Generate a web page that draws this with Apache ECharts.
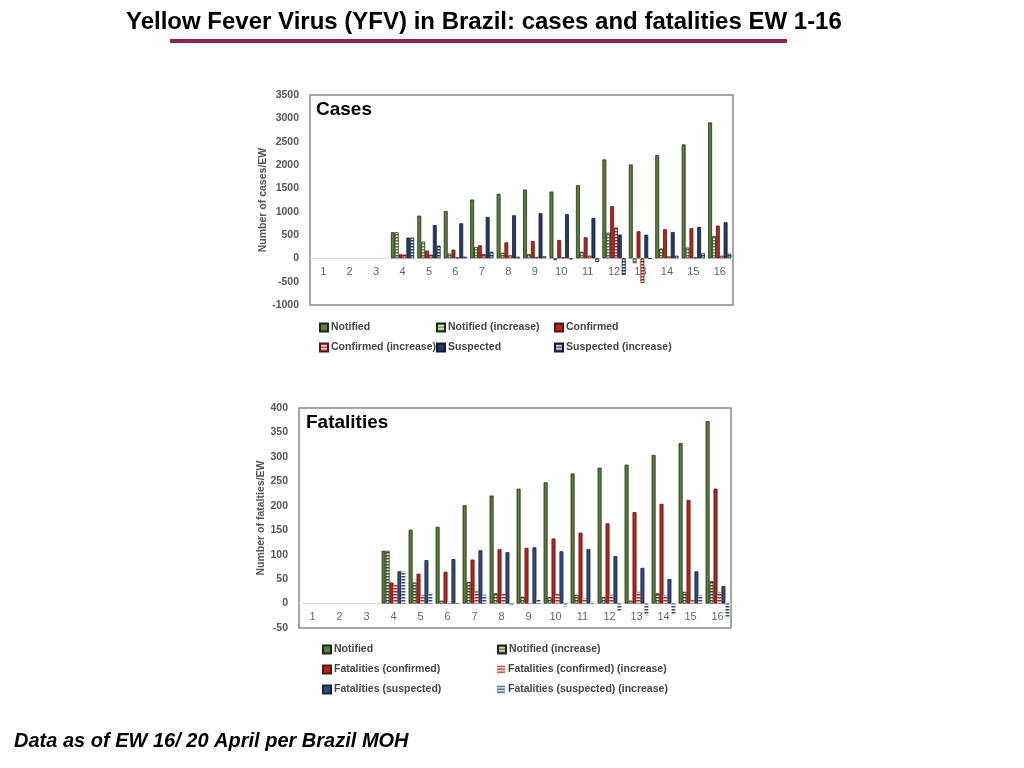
<!DOCTYPE html>
<html>
<head>
<meta charset="utf-8">
<script src="https://cdn.jsdelivr.net/npm/echarts@6/dist/echarts.min.js"></script>
<style>
  html, body { margin: 0; padding: 0; background: #fff; }
  #main { width: 1024px; height: 768px; }
</style>
</head>
<body>
<div id="main"></div>
<script>
// =====================================================================================================================
// Data (EW = epidemiological week)
let weeks = ['1', '2', '3', '4', '5', '6', '7', '8', '9', '10', '11', '12', '13', '14', '15', '16'];

let casesNotified = [null, null, null, 558, 916, 1016, 1260, 1381, 1474, 1431, 1567, 2119, 2011, 2211, 2441, 2913];
let casesNotifiedInc = [null, null, null, 558, 360, 100, 245, 120, 90, -40, 140, 550, -105, 210, 230, 480];
let casesConfirmed = [null, null, null, 86, 165, 186, 279, 343, 372, 394, 451, 1116, 580, 623, 644, 701];
let casesConfirmedInc = [null, null, null, 80, 79, 21, 93, 64, 29, 22, 57, 660, -525, 43, 21, 57];
let casesSuspected = [null, null, null, 444, 715, 751, 887, 923, 966, 945, 866, 509, 505, 565, 673, 773];
let casesSuspectedInc = [null, null, null, 444, 272, 36, 140, 36, 43, -21, -79, -355, -4, 56, 108, 100];

let fatNotified = [null, null, null, 108, 151, 157, 201, 221, 235, 248, 266, 278, 284, 304, 328, 373];
let fatNotifiedInc = [null, null, null, 108, 43, 6, 44, 21, 14, 13, 18, 13, 6, 21, 24, 46];
let fatConfirmed = [null, null, null, 43, 61, 65, 90, 111, 114, 133, 145, 164, 187, 204, 212, 235];
let fatConfirmedInc = [null, null, null, 38, 18, 4, 25, 20, 3, 20, 11, 18, 24, 17, 7, 24];
let fatSuspected = [null, null, null, 66, 89, 91, 109, 105, 115, 107, 111, 97, 73, 50, 66, 36];
let fatSuspectedInc = [null, null, null, 66, 22, 2, 18, -3, 9, -6, 4, -15, -24, -21, 17, -30];

let casesNames = ['Notified', 'Notified (increase)', 'Confirmed', 'Confirmed (increase)', 'Suspected', 'Suspected (increase)'];
let fatNames = ['Notified ', 'Notified (increase) ', 'Fatalities (confirmed)', 'Fatalities (confirmed) (increase)',
  'Fatalities (suspected)', 'Fatalities (suspected) (increase)'];

// =====================================================================================================================
let color_green = '#5e7e3e';
let color_red = '#b3261e';
let color_navy = '#243a66';
let color_blue = '#2f4c7e';
let fontMain = '"Liberation Sans", Arial, sans-serif';

// motif rayé horizontal (barres "increase")
function hatch(color) {
  'use strict';
  let cv = document.createElement('canvas');
  cv.width = 4;
  cv.height = 3;
  let ctx = cv.getContext('2d');
  ctx.fillStyle = '#ffffff';
  ctx.fillRect(0, 0, 4, 3);
  ctx.fillStyle = color;
  ctx.fillRect(0, 0, 4, 1.5);
  return {image: cv, repeat: 'repeat'};
}

function solidBar(name, data, idx, color, border) {
  'use strict';
  return {
    name: name,
    type: 'bar',
    xAxisIndex: idx,
    yAxisIndex: idx,
    data: data,
    barGap: '0%',
    barCategoryGap: '12%',
    itemStyle: {color: color, borderColor: border, borderWidth: 0.8}
  };
}

function hatchBar(name, data, idx, color, border) {
  'use strict';
  return {
    name: name,
    type: 'bar',
    xAxisIndex: idx,
    yAxisIndex: idx,
    data: data,
    barGap: '0%',
    barCategoryGap: '12%',
    itemStyle: {
      color: hatch(color),
      borderColor: border || 'transparent',
      borderWidth: border ? 0.8 : 0
    }
  };
}

let grids = [
  {left: 310, top: 95, width: 423, height: 210},
  {left: 299, top: 408, width: 432, height: 220}
];
let yRanges = [
  {min: -1000, max: 3500, interval: 500},
  {min: -50, max: 400, interval: 50}
];

let xaxis = function (idx) {
  'use strict';
  let r = yRanges[idx];
  // axe des catégories placé sur la ligne du zéro
  let off = -grids[idx].height * (0 - r.min) / (r.max - r.min);
  return {
    type: 'category',
    gridIndex: idx,
    data: weeks,
    offset: off,
    axisTick: {show: false},
    axisLine: {onZero: false, lineStyle: {color: '#dddddd', width: 1}},
    axisLabel: {color: '#666', fontSize: 11, fontFamily: fontMain, margin: 8}
  };
};

let yaxis = function (idx, name, nameGap) {
  'use strict';
  let r = yRanges[idx];
  return {
    type: 'value',
    gridIndex: idx,
    min: r.min,
    max: r.max,
    interval: r.interval,
    name: name,
    nameLocation: 'middle',
    nameGap: nameGap,
    nameTextStyle: {color: '#555', fontSize: 10.5, fontWeight: 'bold', fontFamily: fontMain},
    splitLine: {show: false},
    axisLine: {show: false},
    axisTick: {show: false},
    axisLabel: {
      color: '#555', fontSize: 10.5, fontWeight: 'bold', fontFamily: fontMain, margin: 11,
      formatter: function (v) {
        return String(v);
      }
    }
  };
};

function legendItem(name, left, centerY) {
  'use strict';
  return {
    left: left,
    top: centerY - 6,
    padding: 0,
    icon: 'rect',
    itemWidth: 8,
    itemHeight: 8,
    itemGap: 0,
    textStyle: {color: '#444', fontSize: 10.5, fontWeight: 'bold', fontFamily: fontMain, padding: [0, 0, 0, -2]},
    data: [name]
  };
}

let legends = [
  legendItem(casesNames[0], 319, 328),
  legendItem(casesNames[1], 436, 328),
  legendItem(casesNames[2], 554, 328),
  legendItem(casesNames[3], 319, 348),
  legendItem(casesNames[4], 436, 348),
  legendItem(casesNames[5], 554, 348),
  legendItem(fatNames[0], 322, 650),
  legendItem(fatNames[1], 497, 650),
  legendItem(fatNames[2], 322, 670),
  legendItem(fatNames[3], 497, 670),
  legendItem(fatNames[4], 322, 690),
  legendItem(fatNames[5], 497, 690)
];

let chart = echarts.init(document.getElementById('main'));
let option = {
  backgroundColor: '#ffffff',
  animation: false,
  title: {
    text: 'Yellow Fever Virus (YFV) in Brazil: cases and fatalities EW 1-16',
    left: 121,
    top: 5,
    textStyle: {
      fontFamily: fontMain,
      fontSize: 24,
      fontWeight: 'bold',
      color: '#000'
    }
  },
  graphic: [
    {type: 'rect', left: 170, top: 39, shape: {width: 617, height: 4}, style: {fill: '#8b2452'}},
    {type: 'text', left: 316, top: 100, style: {text: 'Cases', font: 'bold 19px ' + fontMain, fill: '#000'}},
    {type: 'text', left: 306, top: 413, style: {text: 'Fatalities', font: 'bold 19px ' + fontMain, fill: '#000'}},
    {
      type: 'text', left: 14, top: 731,
      style: {text: 'Data as of EW 16/ 20 April per Brazil MOH', font: 'italic bold 20px ' + fontMain, fill: '#000'}
    }
  ],
  legend: legends,
  grid: [
    Object.assign({show: true, borderColor: '#888', borderWidth: 1.5, backgroundColor: 'transparent'}, grids[0]),
    Object.assign({show: true, borderColor: '#888', borderWidth: 1.5, backgroundColor: 'transparent'}, grids[1])
  ],
  xAxis: [xaxis(0), xaxis(1)],
  yAxis: [
    yaxis(0, 'Number of cases/EW', 35),
    yaxis(1, 'Number of fatalties/EW', 24)
  ],
  series: [
    solidBar(casesNames[0], casesNotified, 0, color_green, '#1b2b0f'),
    hatchBar(casesNames[1], casesNotifiedInc, 0, color_green, '#1b2b0f'),
    solidBar(casesNames[2], casesConfirmed, 0, color_red, '#5c1410'),
    hatchBar(casesNames[3], casesConfirmedInc, 0, color_red, '#5c1410'),
    solidBar(casesNames[4], casesSuspected, 0, color_navy, '#111a2e'),
    hatchBar(casesNames[5], casesSuspectedInc, 0, color_navy, '#111a2e'),

    solidBar(fatNames[0], fatNotified, 1, color_green, '#1b2b0f'),
    hatchBar(fatNames[1], fatNotifiedInc, 1, '#3f5a2a', '#1b2b0f'),
    solidBar(fatNames[2], fatConfirmed, 1, color_red, '#5c1410'),
    hatchBar(fatNames[3], fatConfirmedInc, 1, color_red),
    solidBar(fatNames[4], fatSuspected, 1, color_blue, '#16233d'),
    hatchBar(fatNames[5], fatSuspectedInc, 1, color_blue)
  ]
};

option && chart.setOption(option);
</script>
</body>
</html>
